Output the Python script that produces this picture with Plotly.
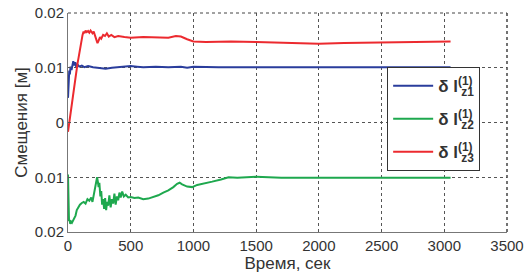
import plotly.graph_objects as go

# ---- data ----
t_blue = [0, 5, 10, 15, 20, 28, 35, 42, 50, 58, 66, 75, 90, 110, 130, 160, 200, 250, 300, 350,
          400, 450, 500, 550, 600, 700, 800, 900, 950, 1000, 1200, 1500, 2000, 2500, 3050]
y_blue = [0.0045, 0.0085, 0.0095, 0.0088, 0.0102, 0.0096, 0.0108, 0.0112, 0.0104, 0.0110, 0.0101,
          0.0106, 0.0102, 0.0104, 0.0101, 0.0103, 0.0101, 0.0100, 0.0098, 0.0100, 0.0101, 0.0102,
          0.0103, 0.0102, 0.0101, 0.0102, 0.0101, 0.0102, 0.0100, 0.0102, 0.0101, 0.0101, 0.0101,
          0.0101, 0.0101]

t_red = [0, 4, 8, 14, 20, 28, 36, 44, 52, 60, 68, 76, 84, 92, 100, 108, 116, 124, 132, 140, 150,
         160, 170, 180, 195, 205, 215, 225, 235, 245, 255, 265, 280, 295, 310, 325, 345, 370, 400,
         450, 500, 600, 700, 800, 860, 900, 950, 1000, 1100, 1300, 1500, 1700, 1900, 2000, 2200,
         2400, 2700, 3050]
y_red = [-0.0017, -0.0010, -0.0013, 0.0005, 0.0015, 0.0030, 0.0045, 0.0058, 0.0070, 0.0082,
         0.0093, 0.0108, 0.0118, 0.0130, 0.0140, 0.0152, 0.0160, 0.0166, 0.0163, 0.0168, 0.0165,
         0.0167, 0.0164, 0.0168, 0.0163, 0.0166, 0.0158, 0.0150, 0.0145, 0.0150, 0.0156, 0.0153,
         0.0160, 0.0158, 0.0163, 0.0157, 0.0160, 0.0156, 0.0158, 0.0156, 0.0155, 0.0156, 0.0155,
         0.0155, 0.0158, 0.0157, 0.0152, 0.0148, 0.0147, 0.0148, 0.0147, 0.0146, 0.0145, 0.0144,
         0.0145, 0.0146, 0.0147, 0.0148]

t_green = [0, 2, 5, 8, 12, 18, 25, 32, 40, 50, 60, 70, 80, 95, 110, 125, 140, 155, 170, 185, 195,
           205, 215, 225, 232, 238, 244, 250, 258, 265, 272, 280, 288, 296, 304, 312, 320, 330,
           340, 350, 360, 370, 380, 390, 400, 410, 420, 432, 445, 460, 480, 500, 530, 560, 600,
           640, 680, 720, 760, 800, 840, 870, 890, 910, 950, 990, 1030, 1080, 1150, 1220, 1280,
           1350, 1450, 1500, 1700, 2000, 2500, 3050]
y_green = [-0.0095, -0.0120, -0.0165, -0.0180, -0.0178, -0.0185, -0.0181, -0.0183, -0.0179,
           -0.0176, -0.0170, -0.0160, -0.0155, -0.0150, -0.0147, -0.0145, -0.0148, -0.0140,
           -0.0143, -0.0137, -0.0145, -0.0132, -0.0125, -0.0112, -0.0100, -0.0108, -0.0118,
           -0.0110, -0.0135, -0.0125, -0.0150, -0.0140, -0.0158, -0.0138, -0.0160, -0.0145,
           -0.0152, -0.0133, -0.0155, -0.0140, -0.0148, -0.0130, -0.0150, -0.0135, -0.0142,
           -0.0128, -0.0137, -0.0126, -0.0135, -0.0132, -0.0137, -0.0136, -0.0138, -0.0137,
           -0.0140, -0.0139, -0.0136, -0.0133, -0.0128, -0.0124, -0.0118, -0.0112, -0.0110,
           -0.0113, -0.0117, -0.0118, -0.0114, -0.0112, -0.0108, -0.0104, -0.0100, -0.0101,
           -0.0100, -0.0099, -0.0101, -0.0101, -0.0101, -0.0101]

x_ticks = [0, 500, 1000, 1500, 2000, 2500, 3000, 3500]
y_ticks = [-0.02, -0.01, 0, 0.01, 0.02]
y_ticktext = ["0.02", "0.01", "0", "0.01", "0.02"]

back = '<span style="letter-spacing:-16px"> </span>'
names = [f"<b>δ l<sup>(1)</sup>{back}<sub>z1</sub></b>",
         f"<b>δ l<sup>(1)</sup>{back}<sub>z2</sub></b>",
         f"<b>δ l<sup>(1)</sup>{back}<sub>z3</sub></b>"]
colors = ["#2a3d9c", "#1ea84e", "#ec2a2f"]

fig = go.Figure()
for i, (t, y, n, c) in enumerate(zip([t_blue, t_green, t_red], [y_blue, y_green, y_red], names, colors)):
    fig.add_trace(go.Scatter(x=t, y=y, mode="lines", name=n, legendgroup=f"g{i}",
                             line=dict(color=c, width=2)))

font = "Liberation Sans, Arial, sans-serif"
fig.update_layout(
    width=525, height=278,
    margin=dict(l=68, r=18, t=13, b=46),
    paper_bgcolor="white", plot_bgcolor="white",
    font=dict(family=font, size=15, color="#333333"),
    legend=dict(x=0.727, y=0.753, xanchor="left", yanchor="top",
                bgcolor="white", bordercolor="#333333", borderwidth=1,
                font=dict(size=17, color="#333333"), tracegroupgap=8,
                itemwidth=40, entrywidth=95),
    shapes=[
        dict(type="line", xref="paper", yref="paper", x0=0, x1=1, y0=1, y1=1,
             line=dict(color="#444444", width=1, dash="dot")),
        dict(type="line", xref="paper", yref="paper", x0=1, x1=1, y0=0, y1=1,
             line=dict(color="#444444", width=1.5, dash="dot")),
    ],
)
fig.update_xaxes(range=[0, 3500], tickvals=x_ticks, showgrid=True, automargin=False,
                 gridcolor="#555555", griddash="dot", gridwidth=1,
                 showline=True, linecolor="#777777", linewidth=1, mirror=False,
                 ticks="inside", ticklen=3, tickcolor="#555555", zeroline=False,
                 title=dict(text="Время, сек", font=dict(size=17), standoff=0))
fig.update_yaxes(range=[-0.02, 0.02], tickvals=y_ticks, ticktext=y_ticktext, showgrid=True,
                 automargin=False,
                 gridcolor="#555555", griddash="dot", gridwidth=1,
                 showline=True, linecolor="#777777", linewidth=1, mirror=False,
                 ticks="inside", ticklen=3, tickcolor="#555555", zeroline=False,
                 title=dict(text="Смещения [м]", font=dict(size=17), standoff=2))

fig.write_html("out.html", config={"displayModeBar": False},
               post_script="document.body.style.margin='0';")
